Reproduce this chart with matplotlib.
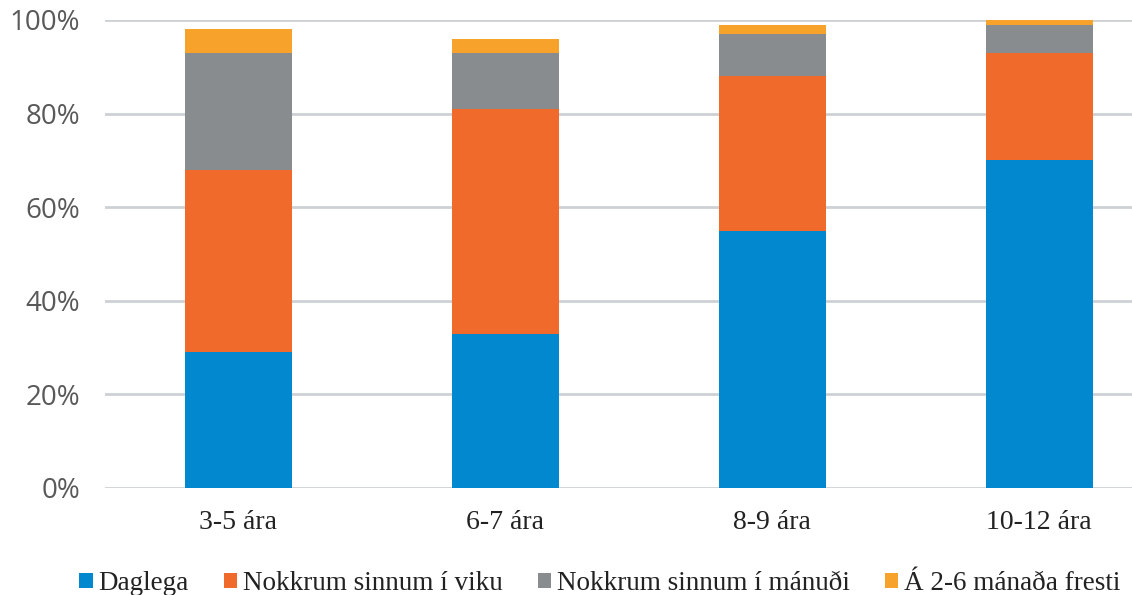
import matplotlib
matplotlib.use('Agg')
import matplotlib.pyplot as plt
import numpy as np

categories = ['3-5 ára', '6-7 ára', '8-9 ára', '10-12 ára']
series_names = ['Daglega', 'Nokkrum sinnum í viku', 'Nokkrum sinnum í mánuði', 'Á 2-6 mánaða fresti']
daglega = [29, 33, 55, 70]
viku = [39, 48, 33, 23]
manudi = [25, 12, 9, 6]
fresti = [5, 3, 2, 1]
yticks = [0, 20, 40, 60, 80, 100]

colors = ['#0288cf', '#f06a2c', '#898c8e', '#f7a22a']


def main():
    fig = plt.figure(figsize=(11.32, 5.95), dpi=100)
    ax = fig.add_axes([105 / 1132, 107 / 595, 1027 / 1132, 468 / 595])

    x = np.arange(len(categories))
    bottom = np.zeros(len(categories))
    for name, vals, col in zip(series_names, [daglega, viku, manudi, fresti], colors):
        ax.bar(x, vals, 0.40, bottom=bottom, color=col, label=name, zorder=3)
        bottom += np.array(vals)

    ax.set_ylim(0, 100)
    ax.set_xlim(-0.5, 3.348)
    ax.set_yticks(yticks)
    ax.set_yticklabels([str(t) + '%' for t in yticks], fontsize=20,
                       family='Open Sans', color='#595959')
    ax.set_xticks(x)
    ax.set_xticklabels(categories, fontsize=20, family='Liberation Serif', color='#222222')
    ax.tick_params(axis='both', length=0)
    ax.tick_params(axis='y', pad=18)
    ax.tick_params(axis='x', pad=16)

    ax.grid(axis='y', color='#cdd1d5', linewidth=2, zorder=0)
    for s in ax.spines.values():
        s.set_visible(False)

    leg = fig.legend(loc='lower left', bbox_to_anchor=(55 / 1132, -0.043), ncol=4,
                     frameon=False, prop={'family': 'Liberation Serif', 'size': 19.5},
                     handlelength=0.5, handleheight=0.5, handletextpad=0.2,
                     columnspacing=1.3)
    for t in leg.get_texts():
        t.set_color('#222222')

    fig.savefig('out.png', dpi=100)


if __name__ == "__main__":
    main()
